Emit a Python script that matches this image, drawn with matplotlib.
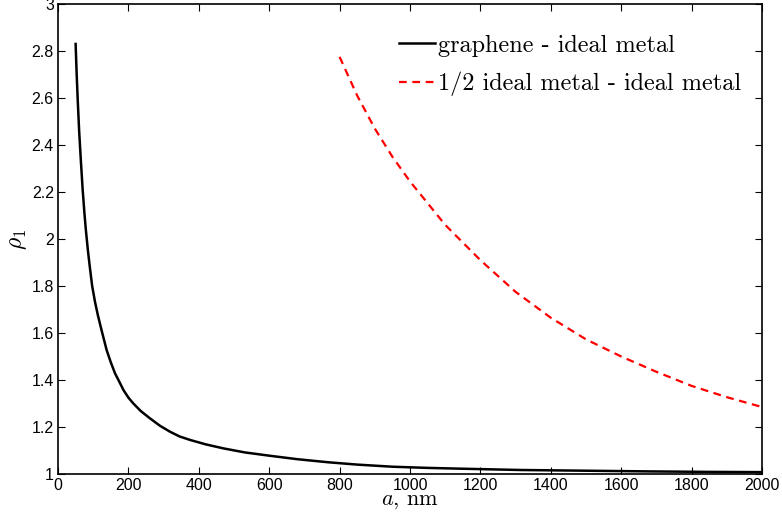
import matplotlib
matplotlib.use("Agg")
import matplotlib.pyplot as plt

# graphene - ideal metal
a_gr = [50, 53, 56, 60, 65, 70, 75, 79, 85, 90, 97, 105, 113, 124, 138, 150, 162,
        175, 186, 200, 214, 235, 261, 290, 318, 345, 375, 420, 470, 530, 600, 680,
        767, 850, 950, 1050, 1133, 1316, 1500, 1682, 1850, 2000]
rho_gr = [2.83, 2.70, 2.59, 2.46, 2.33, 2.21, 2.11, 2.04, 1.95, 1.885, 1.80, 1.733,
          1.677, 1.61, 1.528, 1.475, 1.428, 1.39, 1.357, 1.325, 1.30, 1.268, 1.237,
          1.205, 1.18, 1.16, 1.145, 1.126, 1.109, 1.092, 1.078, 1.063, 1.05, 1.04,
          1.031, 1.026, 1.023, 1.017, 1.014, 1.011, 1.009, 1.008]

# 1/2 ideal metal - ideal metal
a_half = [800, 850, 900, 950, 1000, 1100, 1200, 1300, 1400, 1500, 1600, 1700,
          1800, 1900, 2000]
rho_half = [2.775, 2.61, 2.47, 2.35, 2.245, 2.06, 1.91, 1.775, 1.665, 1.573, 1.50,
            1.435, 1.375, 1.327, 1.285]

plt.rcParams['mathtext.fontset'] = 'cm'
plt.rcParams['axes.unicode_minus'] = False

fig = plt.figure(figsize=(7.82, 5.19), dpi=100)
ax = fig.add_axes([0.0742, 0.0867, 0.9002, 0.9056])

ax.plot(a_gr, rho_gr, color='black', lw=1.8, label='graphene - ideal metal')
ax.plot(a_half, rho_half, color='red', lw=1.6, ls=(0, (3.5, 2.5)),
        label='1/2 ideal metal - ideal metal')

ax.set_xlim(0, 2000)
ax.set_ylim(1, 3)
ax.set_xticks(range(0, 2001, 200))
ax.set_yticks([1, 1.2, 1.4, 1.6, 1.8, 2, 2.2, 2.4, 2.6, 2.8, 3])
ax.set_yticklabels(['1', '1.2', '1.4', '1.6', '1.8', '2', '2.2', '2.4', '2.6', '2.8', '3'])
ax.tick_params(direction='in', top=True, right=True, length=5, width=0.8,
               labelsize=11.5, pad=3)
for lab in ax.get_xticklabels() + ax.get_yticklabels():
    lab.set_family('Liberation Sans')
for s in ax.spines.values():
    s.set_linewidth(1.2)

ax.set_xlabel(r'$a$, nm', family='cmr10', fontsize=16, labelpad=-1)
ax.set_ylabel(r'$\rho_1$', fontsize=17, labelpad=2)

leg = ax.legend(loc='upper right', bbox_to_anchor=(0.984, 0.955), borderaxespad=0,
                frameon=False, prop={'family': 'cmr10', 'size': 17.5},
                handlelength=1.5, handletextpad=0.1, labelspacing=0.6)

fig.savefig('out.png', dpi=100)
